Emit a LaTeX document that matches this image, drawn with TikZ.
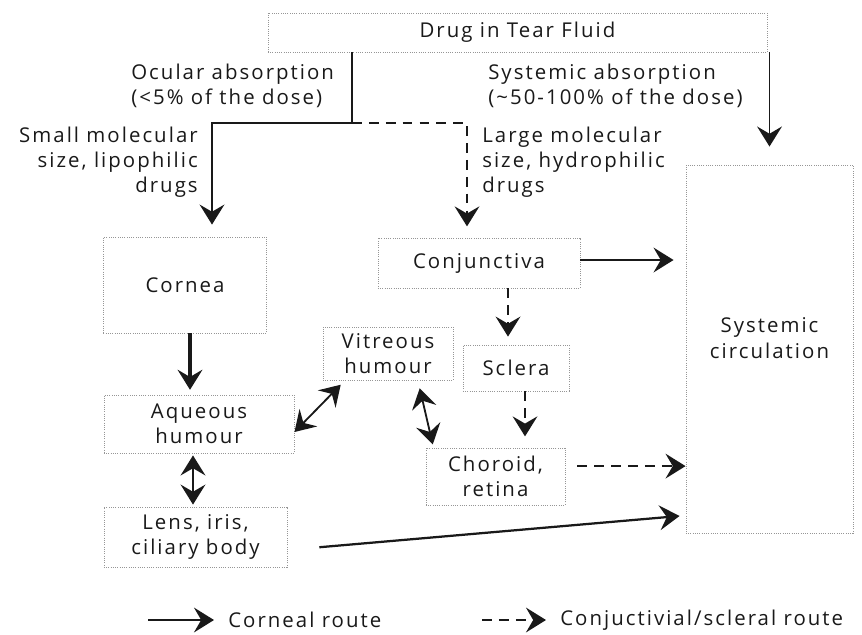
\documentclass[tikz,border=0pt]{standalone}
\usepackage{fontspec}
\setmainfont{Open Sans}[LetterSpace=10]
\usepackage{tikz}
\usetikzlibrary{
  arrows.meta,
  positioning,
  calc
}
\definecolor{InkDark}{RGB}{25,25,25}
\definecolor{BoxGray}{RGB}{150,150,150}
\newcommand{\figfont}{\fontsize{14.5}{17.8}\selectfont}
\tikzset{
  %%── tissue boxes ─────────────────────────────────────────
  organ/.style = {
    rectangle, draw = BoxGray, densely dotted, line width = 0.6pt,
    align = center, inner sep = 2pt, font = \figfont, text = InkDark
  },
  %%── free labels ──────────────────────────────────────────
  lbl/.style = {inner sep = 0pt, font = \figfont, text = InkDark},
  %%── arrows ───────────────────────────────────────────────
  arr/.style  = {-{Stealth[length = 0.5cm, width = 0.62cm, inset = 0.18cm]},
                 line width = 1.3pt, color = InkDark},
  tharr/.style = {-{Stealth[length = 0.5cm, width = 0.62cm, inset = 0.18cm]},
                 line width = 2.2pt, color = InkDark},
  darr/.style = {-{Stealth[length = 0.5cm, width = 0.62cm, inset = 0.18cm]},
                 line width = 1.3pt, dash pattern = on 7pt off 5pt, color = InkDark},
  biarr/.style = {{Stealth[length = 0.5cm, width = 0.62cm, inset = 0.18cm]}-{Stealth[length = 0.5cm, width = 0.62cm, inset = 0.18cm]},
                 line width = 1.3pt, color = InkDark},
  line/.style = {line width = 1.3pt, color = InkDark},
}

\begin{document}
\begin{tikzpicture}[x = 0.025cm, y = -0.025cm]

  \useasboundingbox (0,0) rectangle (862,634);

  %% ── boxes ───────────────────────────────────────────────
  \node[organ, minimum width = 12.475cm, minimum height = 0.975cm] (tear) at (517.5,32.5) {Drug in Tear Fluid};
  \node[organ, minimum width = 4.075cm, minimum height = 2.4cm]    (cornea) at (185,285) {Cornea};
  \node[organ, minimum width = 5.05cm, minimum height = 1.25cm]    (conj) at (479,263) {Conjunctiva};
  \node[organ, minimum width = 3.25cm, minimum height = 1.325cm]   (vit) at (388,353.5) {Vitreous\\humour};
  \node[organ, minimum width = 2.65cm, minimum height = 1.15cm]    (sclera) at (516,368) {Sclera};
  \node[organ, minimum width = 4.75cm, minimum height = 1.45cm]    (aqueous) at (199,424) {Aqueous\\humour};
  \node[organ, minimum width = 3.475cm, minimum height = 1.425cm]  (choroid) at (495.5,476.5) {Choroid,\\retina};
  \node[organ, minimum width = 4.575cm, minimum height = 1.5cm]    (lens) at (195.5,537) {Lens, iris,\\ciliary body};
  \node[organ, minimum width = 4.175cm, minimum height = 9.2cm, text depth = 0.55cm] (sys) at (769.5,349) {Systemic\\circulation};

  %% ── labels ──────────────────────────────────────────────
  \node[lbl, anchor = west, align = left]  (ocular) at (131,86) {Ocular absorption\\(<5\% of the dose)};
  \node[lbl, anchor = west, align = left]  (sysabs) at (488,86) {Systemic absorption\\(\textasciitilde50-100\% of the dose)};
  \node[lbl, anchor = east, align = right] (small) at (198,162) {Small molecular\\size, lipophilic\\drugs};
  \node[lbl, anchor = west, align = left]  (large) at (482,162) {Large molecular\\size, hydrophilic\\drugs};

  %% ── split below the tear fluid ──────────────────────────
  \coordinate (split) at (352,123);
  \coordinate (lbend) at (212,123);
  \coordinate (rbend) at (467,123);
  \draw[line] (tear.south -| split) -- (split);
  \draw[arr, shorten >= 0.3cm] (split) -- (lbend) -- (lbend |- cornea.north);
  \draw[darr, shorten >= 0.28cm] (split) -- (rbend) -- (rbend |- conj.north);
  \draw[arr, shorten >= 0.45cm] (tear.south -| sys.north) -- (sys.north);

  %% ── corneal route ───────────────────────────────────────
  \draw[tharr, shorten >= 0.12cm] ([xshift = 0.125cm]cornea.south) -- ([xshift = 0.125cm]cornea.south |- aqueous.north);
  \draw[biarr, shorten <= 0.05cm, shorten >= 0.05cm] ([xshift = -0.15cm]aqueous.south) -- ([xshift = -0.15cm]aqueous.south |- lens.north);
  \draw[biarr, shorten >= 0.15cm] ([yshift = -0.2cm]aqueous.east) -- (vit.212);
  \draw[biarr, shorten <= 0.2cm, shorten >= 0.08cm] (vit.318) -- (choroid.155);
  \draw[arr, line width = 1.6pt, shorten <= 0.8cm, shorten >= 0.15cm] ([yshift = -0.325cm]lens.east) -- ([yshift = 0.45cm]sys.south west);

  %% ── conjunctival / scleral route ────────────────────────
  \draw[arr, shorten >= 0.3cm] ([yshift = 0.075cm]conj.east) -- ([yshift = 0.075cm]conj.east -| sys.west);
  \draw[darr, shorten >= 0.2cm] ([xshift = -0.2cm]sclera.north |- conj.south) -- ([xshift = -0.2cm]sclera.north);
  \draw[darr, shorten >= 0.28cm] ([xshift = 0.225cm]sclera.south) -- ([xshift = 0.225cm]sclera.south |- choroid.north);
  \draw[darr, shorten <= 0.3cm] ([yshift = 0.26cm]choroid.east) -- ([yshift = 0.26cm]choroid.east -| sys.west);

  %% ── legend ──────────────────────────────────────────────
  \node[lbl, anchor = west] (key1) at (228,620) {Corneal route};
  \node[lbl, anchor = west] (key2) at (560,620) {Conjuctivial/scleral route};
  \coordinate (k1) at (148,620);
  \coordinate (k2) at (482,620);
  \draw[arr, shorten >= 0.35cm] (k1) -- (key1.west);
  \draw[darr, shorten >= 0.35cm] (k2) -- (key2.west);

\end{tikzpicture}
\end{document}
